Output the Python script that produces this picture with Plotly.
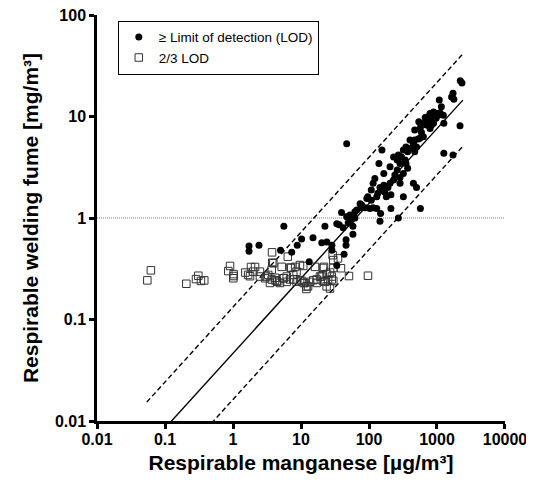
import math
import plotly.graph_objects as go

# ---- data ----
# >= LOD (filled circles): respirable Mn [ug/m3], respirable welding fume [mg/m3]
lod_mn = [1.72, 1.72, 2.41, 5.0, 5.6, 7.3, 8.8, 10.2, 13.2, 15.0, 20.2, 22.5, 24, 28.5, 28.5, 33.6,
          39.5, 36.5, 41.7, 46, 46, 43, 58, 58, 66, 62, 78, 108, 130, 145, 93, 103, 47,
          62, 55, 49.5, 33.6, 88, 115, 130, 135, 155, 145, 165, 148, 122, 210, 210, 270, 320,
          570, 286, 260, 240, 230, 204, 140, 155, 270, 230, 260, 286, 350, 370, 450, 500,
          401, 350, 320, 370, 420, 470, 560, 630, 530, 540, 470, 570, 700, 790, 670, 750,
          830, 890, 940, 970, 1040, 1107, 1260, 1240, 1080, 1160, 1640, 1720, 1770, 2330,
          2200, 2180, 1260, 1720, 286, 190, 180, 170, 204, 320, 340, 300, 450, 500, 470,
          590, 630, 690, 790, 890, 1000, 830, 165, 115, 108, 96, 78, 74, 52.6, 47]
lod_fume = [0.53, 0.47, 0.54, 0.48, 0.83, 0.46, 0.54, 0.62, 0.37, 0.64, 0.57, 0.83, 0.58, 0.54, 0.48, 0.34,
            1.13, 0.86, 0.80, 0.61, 0.54, 0.44, 0.69, 0.83, 1.2, 1.0, 1.34, 1.5, 1.24, 0.93, 1.56, 1.24, 5.4,
            1.15, 0.955, 0.90, 0.88, 1.26, 1.26, 1.62, 1.75, 1.89, 2.0, 2.1, 1.11, 2.45, 1.69, 1.24, 1.0, 1.62,
            1.24, 2.2, 2.97, 2.65, 2.37, 3.2, 3.45, 4.68, 4.18, 4.0, 3.73, 3.45, 3.45, 3.1, 2.2, 2.0,
            5.87, 5.0, 4.68, 4.5, 4.9, 4.5, 6.1, 6.3, 6.0, 8.9, 7.36, 7.8, 8.25, 7.6, 9.8, 10.0,
            9.24, 8.6, 10.0, 9.6, 10.3, 10.9, 8.6, 10.3, 14.5, 12.5, 15.6, 16.9, 14.8, 21.4,
            22.5, 8.1, 4.35, 4.18, 2.5, 2.0, 1.62, 1.8, 2.2, 2.75, 3.73, 4.0, 5.4, 5.0, 5.87,
            7.0, 8.6, 9.24, 10.7, 11.1, 10.7, 8.25, 2.75, 2.2, 1.89, 1.62, 1.26, 1.38, 1.07, 1.03]

# 2/3 LOD (open squares)
sub_mn = [0.055, 0.062, 0.206, 0.286, 0.309, 0.338, 0.378, 0.904, 0.853, 1.02, 1.01, 1.02, 1.52, 1.84,
          2.11, 1.78, 1.99, 1.67,
          2.49, 2.49, 2.96, 3.30, 3.71, 3.75, 3.78, 3.71, 4.15, 4.15, 4.48, 4.91, 3.50, 5.2, 5.62,
          6.16, 6.16, 6.4, 6.9, 7.0, 7.7, 8.2, 8.6, 8.6, 9.7, 10.8, 11.0, 12.0, 12.0, 13.6, 15.2,
          16.1, 17.0, 19.0, 20.8, 21.8, 22.5, 23.8, 25.0, 26.7, 28.4, 29.9, 29.9, 29.2, 35.0, 38.7,
          50.8, 96.6,
          3.92, 7.2, 9.66, 21.1, 29.9, 3.1, 4.4, 5.5, 7.7, 10.2, 11.4, 12.7, 17.0, 20.0, 21.0,
          23.8, 28.4, 26.7]
sub_fume = [0.243, 0.305, 0.225, 0.25, 0.27, 0.24, 0.243, 0.337, 0.30, 0.28, 0.255, 0.268, 0.29, 0.329,
            0.329, 0.267, 0.296, 0.275,
            0.265, 0.296, 0.255, 0.275, 0.248, 0.459, 0.363, 0.31, 0.244, 0.258, 0.235, 0.229, 0.229,
            0.33, 0.255, 0.265, 0.235, 0.416, 0.248, 0.325, 0.275, 0.33, 0.296, 0.235, 0.244, 0.337,
            0.229, 0.212, 0.2, 0.235, 0.244, 0.33, 0.229, 0.265, 0.275, 0.33, 0.235, 0.212, 0.244,
            0.29, 0.265, 0.24, 0.385, 0.43, 0.40, 0.32, 0.268, 0.27,
            0.358, 0.322, 0.344, 0.322, 0.322, 0.265, 0.24, 0.255, 0.248, 0.24, 0.229, 0.212, 0.248,
            0.265, 0.24, 0.28, 0.248, 0.202]

# regression (log10 fume = intercept + slope * log10 Mn) and its band (log10 units)
fit_slope = 0.738
fit_intercept = -1.333
band_half_width = 0.455
line_mn = [0.054, 2400]
lod_level = [1, 1]
lod_level_x = [0.01, 10000]

tick_x_vals = [0.01, 0.1, 1, 10, 100, 1000, 10000]
tick_x_text = ["0.01", "0.1", "1", "10", "100", "1000", "10000"]
tick_y_vals = [0.01, 0.1, 1, 10, 100]
tick_y_text = ["0.01", "0.1", "1", "10", "100"]


def fit(x, off):
    return 10 ** (fit_intercept + fit_slope * math.log10(x) + off)


FONT = "Liberation Sans, Arial, sans-serif"
fig = go.Figure()

fig.add_trace(go.Scatter(x=lod_level_x, y=lod_level, mode="lines", showlegend=False,
                         line=dict(color="#7a7a7a", width=1, dash="1px,1px"), hoverinfo="skip"))
for off, dash in [(0, "solid"), (band_half_width, "5px,3px"), (-band_half_width, "5px,3px")]:
    fig.add_trace(go.Scatter(x=line_mn, y=[fit(v, off) for v in line_mn], mode="lines",
                             showlegend=False, line=dict(color="black", width=1.4, dash=dash),
                             hoverinfo="skip"))

fig.add_trace(go.Scatter(x=sub_mn, y=sub_fume, mode="markers", name="2/3 LOD",
                         marker=dict(symbol="square-open", size=7.5, color="#333333",
                                     line=dict(width=1, color="#333333"))))
fig.add_trace(go.Scatter(x=lod_mn, y=lod_fume, mode="markers",
                         name="\u2265 Limit of detection (LOD)",
                         marker=dict(symbol="circle", size=7, color="black")))

axis_common = dict(type="log", showgrid=False, zeroline=False, showline=True,
                   linecolor="black", linewidth=2.5, ticks="outside", ticklen=5,
                   tickwidth=2.5, tickcolor="black", mirror=False, automargin=False,
                   ticklabeloverflow="allow",
                   tickfont=dict(family=FONT, size=16, color="black"))

# page body has an 8px default margin: shrink the figure so the plot lands where the reference has it
fig.update_layout(
    width=526, height=474,
    margin=dict(l=89, r=29, t=7, b=61),
    plot_bgcolor="white", paper_bgcolor="white",
    font=dict(family=FONT, color="black"),
    xaxis=dict(range=[-2, 4.0001], tickvals=tick_x_vals,
               ticktext=["<b>%s</b>" % t for t in tick_x_text], ticklabelstandoff=-3,
               title=dict(text="<b>Respirable manganese [µg/m³]</b>", standoff=9,
                          font=dict(family=FONT, size=21, color="black")),
               **axis_common),
    yaxis=dict(range=[-2, 2], tickvals=tick_y_vals,
               ticktext=["<b>%s</b>" % t for t in tick_y_text],
               title=dict(text="<b>Respirable welding fume [mg/m³]</b>", standoff=11,
                          font=dict(family=FONT, size=21, color="black")),
               **axis_common),
    legend=dict(x=0.051, y=0.986, xanchor="left", yanchor="top", traceorder="reversed",
                bordercolor="black", borderwidth=1, bgcolor="white",
                font=dict(family=FONT, size=13.5, color="black"),
                itemwidth=30, tracegroupgap=0),
    showlegend=True,
)

fig.write_html("out.html")
